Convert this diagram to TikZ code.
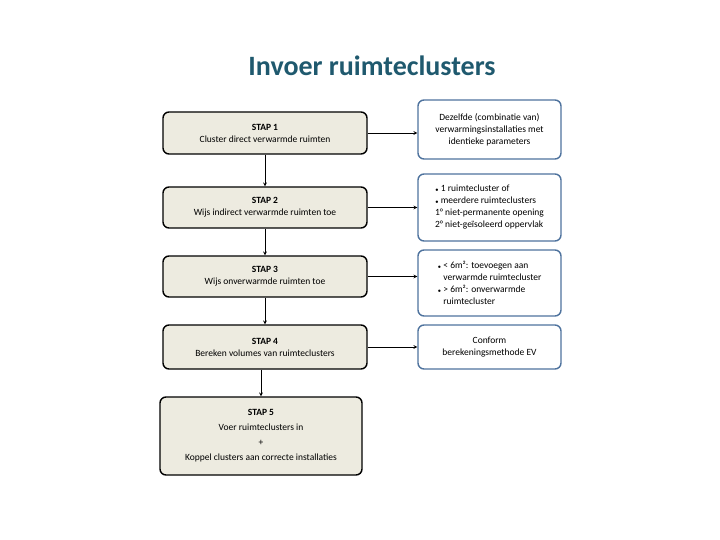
\documentclass[tikz,border=0pt]{standalone}
\usepackage{fontspec}
\setmainfont{Carlito}
\usepackage{tikz}
\usetikzlibrary{positioning}
\definecolor{titelkleur}{rgb}{0.12,0.35,0.43}
\definecolor{stapfill}{rgb}{0.93,0.92,0.88}
\definecolor{notebd}{rgb}{0.31,0.45,0.62}
\begin{document}
\begin{tikzpicture}[x=1pt,y=-1pt,thick,
    stap/.style={draw=black,fill=stapfill,rounded corners=6pt,line width=1.4pt,
        inner sep=0pt,align=center,font=\fontsize{9.5}{12}\selectfont},
    note/.style={draw=notebd,fill=white,rounded corners=6pt,line width=1.4pt,
        inner sep=0pt,align=center,font=\fontsize{9.5}{12}\selectfont},
    pijl/.style={->,>=stealth,line width=0.7pt}
]
\useasboundingbox (0,0) rectangle (720,540);
\node[text=titelkleur,font=\fontsize{28}{32}\selectfont\bfseries] (titel) at (372,66) {Invoer ruimteclusters};
% stappen
\node[stap,minimum width=204pt,minimum height=42pt] (s1) at (265,133) {\textbf{STAP 1}\\Cluster direct verwarmde ruimten};
\node[stap,minimum width=204pt,minimum height=41pt] (s2) at (265,207.5) {\textbf{STAP 2}\\Wijs indirect verwarmde ruimten toe};
\node[stap,minimum width=204pt,minimum height=41pt] (s3) at (265,276.5) {\textbf{STAP 3}\\Wijs onverwarmde ruimten toe};
\node[stap,minimum width=204pt,minimum height=44pt] (s4) at (265,347) {\textbf{STAP 4}\\Bereken volumes van ruimteclusters};
\node[stap,minimum width=202pt,minimum height=78pt] (s5) at (261,436) {\textbf{STAP 5}\\[3pt]Voer ruimteclusters in\\[3pt]+\\[3pt]Koppel clusters aan correcte installaties};
% toelichting
\node[note,minimum width=143pt,minimum height=59pt] (n1) at (489.5,129.5) {Dezelfde (combinatie van)\\verwarmingsinstallaties met\\identieke parameters};
\node[note,minimum width=143pt,minimum height=67pt,align=left] (n2) at (489.5,207.5) {{\tiny$\bullet$} 1 ruimtecluster of\\{\tiny$\bullet$} meerdere ruimteclusters\\1° niet-permanente opening\\2° niet-geïsoleerd oppervlak};
\node[note,minimum width=143pt,minimum height=66pt,align=left] (n3) at (489.5,283) {{\tiny$\bullet$} < 6m²: toevoegen aan\\\phantom{\tiny$\bullet$} verwarmde ruimtecluster\\{\tiny$\bullet$} > 6m²: onverwarmde\\\phantom{\tiny$\bullet$} ruimtecluster};
\node[note,minimum width=143pt,minimum height=44pt] (n4) at (489.5,347) {Conform\\berekeningsmethode EV};
% pijlen
\foreach \a/\b in {s1/s2,s2/s3,s3/s4}
    \draw[pijl] (\a) -- (\b);
\draw[pijl] (s4.south -| s5.north) -- (s5.north);
\foreach \a/\b in {s1/n1,s2/n2,s3/n3,s4/n4}
    \draw[pijl] (\a.east) -- (\a.east -| \b.west);
\end{tikzpicture}
\end{document}
